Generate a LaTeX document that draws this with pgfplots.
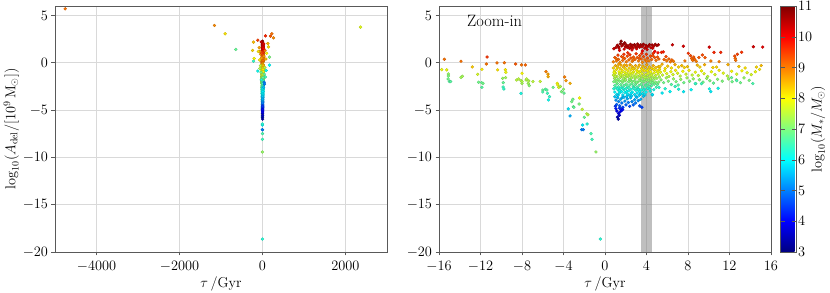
\documentclass[border=0pt]{standalone}
\usepackage{pgfplots}
\pgfplotsset{compat=1.18}
\usepackage{pgfplotstable}

\pgfplotstableread{
x y c
-15.74 -0.73 7.9
-15.49 0.37 9.1
-15.26 -0.75 7.9
-15.10 -1.18 7.2
-15.10 -1.40 7.0
-15.12 -1.71 6.9
-15.00 -1.99 6.7
-14.88 -1.99 6.7
-13.88 0.16 9.1
-13.88 -1.54 7.3
-13.75 -1.43 7.3
-12.79 -0.44 8.4
-12.27 -1.22 7.7
-12.18 -2.06 6.9
-11.89 -2.10 6.8
-11.86 -2.59 6.7
-11.76 -2.17 6.9
-11.86 -0.69 8.1
-11.37 0.61 9.6
-11.44 -0.13 9.1
-10.41 -0.02 9.1
-10.35 -0.75 8.2
-9.86 -1.64 7.2
-9.80 -2.10 6.8
-9.82 -2.56 6.5
-9.75 -2.77 6.4
-9.70 0.01 9.1
-9.60 -0.74 8.1
-9.55 -1.00 7.9
-9.58 -1.57 7.3
-8.61 -0.13 9.3
-8.05 -0.23 9.1
-7.68 -0.23 9.2
-8.00 -1.11 8.0
-8.51 -1.82 7.5
-8.32 -1.71 7.5
-8.10 -1.89 7.4
-8.00 -2.17 7.3
-8.00 -1.99 7.4
-8.10 -3.23 6.2
-7.61 -1.82 7.4
-7.55 -1.71 7.5
-7.40 -2.17 7.3
-7.30 -2.42 7.1
-7.35 -1.92 7.4
-6.95 -1.99 7.5
-6.25 -1.97 7.6
-6.00 -2.88 6.8
-6.00 -3.09 6.6
-5.75 -2.80 6.7
-5.60 -2.88 6.7
-5.55 -3.23 6.5
-5.45 -3.93 6.1
-5.35 -3.58 6.4
-5.69 -0.94 9.0
-5.50 -1.20 8.7
-5.48 -1.47 8.6
-5.00 -2.60 6.9
-4.60 -2.17 8.0
-4.55 -2.35 7.9
-4.45 -2.60 7.8
-4.30 -2.50 7.4
-4.20 -3.05 7.0
-4.00 -2.80 7.1
-3.95 -3.20 6.8
-3.89 -1.50 9.0
-3.76 -1.89 8.8
-3.37 -2.17 8.6
-3.54 -4.88 5.8
-3.37 -5.62 5.4
-3.21 -4.11 6.9
-3.10 -3.86 6.9
-3.05 -4.64 6.8
-3.00 -4.71 6.8
-2.45 -3.72 8.0
-2.50 -4.36 7.0
-2.20 -4.92 7.6
-2.25 -7.07 5.0
-2.10 -7.07 5.0
-2.00 -5.76 6.8
-1.75 -5.40 7.5
-1.65 -5.50 7.5
-2.15 -6.58 5.9
-1.73 -6.47 6.3
-1.35 -7.49 6.6
-1.25 -8.09 6.5
-0.87 -9.43 7.2
-0.45 -18.63 6.3
0.85 1.48 10.4
1.05 1.62 10.5
1.20 1.85 10.6
1.35 1.55 10.4
1.48 2.02 10.8
1.55 2.28 10.9
1.62 1.78 10.6
1.75 1.95 10.7
1.85 1.45 10.3
1.95 1.70 10.5
2.05 1.88 10.6
2.15 1.62 10.5
2.25 1.78 10.6
2.35 1.52 10.4
2.45 1.95 10.7
2.55 1.70 10.5
2.65 1.85 10.6
2.72 1.58 10.4
2.85 1.92 10.7
2.95 1.75 10.6
3.05 1.48 10.3
3.15 1.98 10.7
3.25 1.80 10.6
3.35 1.65 10.5
3.45 1.90 10.7
3.58 1.72 10.5
3.70 1.95 10.7
3.82 1.55 10.4
3.95 1.85 10.6
4.05 1.40 10.3
4.18 1.78 10.6
4.30 1.92 10.7
4.42 1.60 10.4
4.55 1.88 10.6
4.70 1.75 10.5
4.85 1.95 10.7
5.00 1.82 10.6
5.15 1.90 10.6
1.40 1.30 10.2
2.60 1.35 10.2
3.60 1.25 10.1
4.80 1.20 10.0
5.10 1.05 9.9
1.30 1.70 10.6
1.90 2.10 10.8
2.50 1.62 10.5
3.10 1.68 10.5
4.00 1.65 10.5
4.60 1.55 10.4
0.95 0.55 9.3
1.10 0.20 9.0
1.25 0.80 9.5
1.30 0.35 9.2
1.45 0.05 8.9
1.60 0.65 9.4
1.70 0.25 9.1
1.82 0.90 9.6
1.90 0.45 9.3
2.05 0.10 9.0
2.15 0.70 9.4
2.30 0.30 9.1
2.40 0.85 9.6
2.50 0.50 9.3
2.62 0.15 9.0
2.75 0.60 9.3
2.88 0.35 9.2
3.00 0.95 9.6
3.10 0.55 9.3
3.22 0.20 9.0
3.35 0.75 9.4
3.48 0.40 9.2
3.60 0.05 8.9
3.72 0.65 9.4
3.85 0.30 9.1
3.98 0.90 9.6
4.10 0.50 9.3
4.25 0.20 9.0
4.38 0.70 9.4
4.50 0.35 9.2
4.65 1.00 9.6
4.78 0.55 9.3
4.92 0.25 9.1
5.05 0.60 9.3
5.20 0.40 9.2
0.80 0.10 9.0
2.20 1.05 9.7
3.55 1.00 9.7
1.08 0.45 9.2
1.75 0.55 9.3
2.70 0.30 9.1
3.30 0.50 9.3
4.00 0.15 9.0
4.60 0.75 9.4
0.80 -0.55 8.3
0.90 -0.90 8.0
1.00 -0.30 8.6
1.12 -0.70 8.2
1.22 -0.45 8.4
1.35 -0.95 8.0
1.45 -0.60 8.3
1.55 -0.25 8.6
1.65 -0.80 8.1
1.78 -0.45 8.4
1.88 -1.00 7.9
1.98 -0.65 8.2
2.10 -0.30 8.6
2.20 -0.85 8.1
2.32 -0.55 8.3
2.42 -0.20 8.7
2.52 -0.75 8.2
2.62 -0.40 8.5
2.75 -0.95 8.0
2.85 -0.60 8.3
2.95 -0.30 8.6
3.08 -0.80 8.1
3.18 -0.50 8.4
3.30 -0.25 8.6
3.40 -0.90 8.0
3.52 -0.60 8.3
3.65 -0.35 8.5
3.78 -0.85 8.1
3.90 -0.50 8.4
4.02 -0.20 8.7
4.15 -0.70 8.2
4.28 -0.45 8.4
4.40 -0.95 8.0
4.52 -0.60 8.3
4.65 -0.30 8.6
4.78 -0.80 8.1
4.90 -0.50 8.4
5.02 -0.85 8.1
5.15 -0.40 8.5
5.25 -0.70 8.2
1.32 -0.15 8.7
1.88 -0.25 8.6
2.70 -0.60 8.3
3.12 -0.95 8.0
3.65 -0.75 8.2
4.08 -0.85 8.1
4.68 -0.70 8.2
0.82 -1.30 7.6
0.92 -1.65 7.3
1.02 -1.10 7.8
1.15 -1.45 7.5
1.25 -1.75 7.2
1.38 -1.20 7.7
1.48 -1.55 7.4
1.58 -1.05 7.9
1.68 -1.40 7.5
1.80 -1.70 7.3
1.90 -1.25 7.7
2.00 -1.55 7.4
2.12 -1.15 7.8
2.22 -1.45 7.5
2.35 -1.75 7.2
2.45 -1.30 7.6
2.55 -1.60 7.4
2.68 -1.10 7.8
2.78 -1.40 7.5
2.90 -1.70 7.3
3.00 -1.20 7.7
3.12 -1.50 7.4
3.25 -1.05 7.9
3.35 -1.35 7.6
3.45 -1.65 7.3
3.58 -1.15 7.8
3.68 -1.45 7.5
3.80 -1.75 7.2
3.92 -1.25 7.7
4.05 -1.55 7.4
4.15 -1.10 7.8
4.28 -1.40 7.5
4.40 -1.70 7.3
4.52 -1.20 7.7
4.62 -1.50 7.4
4.75 -1.05 7.9
4.88 -1.35 7.6
5.00 -1.65 7.3
5.12 -1.20 7.7
5.25 -1.50 7.4
0.88 -1.05 7.9
0.98 -1.45 7.5
1.50 -1.30 7.6
2.18 -1.30 7.6
2.42 -1.05 7.9
2.90 -1.50 7.4
3.32 -1.75 7.2
3.85 -1.55 7.4
4.45 -1.30 7.6
4.80 -1.65 7.3
5.10 -1.00 7.9
0.85 -2.00 7.0
0.95 -2.40 6.7
1.08 -1.85 7.1
1.18 -2.20 6.8
1.30 -2.55 6.5
1.40 -1.95 7.0
1.52 -2.30 6.8
1.62 -2.60 6.5
1.72 -2.05 7.0
1.85 -2.40 6.7
1.95 -1.90 7.1
2.05 -2.25 6.8
2.18 -2.55 6.6
2.28 -2.00 7.0
2.40 -2.35 6.7
2.50 -1.85 7.1
2.60 -2.20 6.8
2.72 -2.50 6.6
2.82 -1.95 7.0
2.92 -2.30 6.8
3.05 -2.60 6.5
3.15 -2.05 7.0
3.28 -2.40 6.7
3.38 -1.90 7.1
3.50 -2.25 6.8
3.62 -2.55 6.6
3.75 -2.00 7.0
3.88 -2.35 6.7
4.00 -1.85 7.1
4.12 -2.20 6.8
4.25 -2.50 6.6
4.38 -2.05 7.0
4.50 -2.40 6.7
4.62 -1.90 7.1
4.75 -2.25 6.8
4.88 -2.05 7.0
5.05 -2.30 6.8
1.10 -2.05 7.0
1.65 -1.90 7.1
1.98 -1.80 7.2
2.30 -2.60 6.5
2.58 -2.00 7.0
3.02 -2.05 7.0
3.55 -1.95 7.0
3.95 -2.45 6.7
4.20 -1.85 7.1
4.58 -2.10 6.9
4.95 -2.60 6.5
5.18 -2.05 7.0
0.85 -2.75 6.3
0.95 -3.10 6.0
1.05 -2.65 6.4
1.15 -3.35 5.8
1.28 -2.90 6.2
1.38 -3.20 5.9
1.50 -2.70 6.3
1.60 -3.05 6.0
1.72 -3.40 5.8
1.82 -2.85 6.2
1.92 -3.15 6.0
2.05 -2.70 6.3
2.15 -3.30 5.9
2.28 -2.95 6.1
2.38 -3.45 5.7
2.50 -2.80 6.2
2.62 -3.10 6.0
2.75 -2.65 6.4
2.85 -3.35 5.8
2.98 -2.90 6.2
3.10 -3.20 5.9
3.22 -2.75 6.3
3.35 -3.05 6.0
3.48 -2.85 6.2
3.62 -3.25 5.9
3.80 -2.80 6.2
3.95 -3.10 6.0
4.10 -2.70 6.3
4.35 -3.00 6.1
4.55 -3.40 5.8
4.70 -2.85 6.2
3.85 -3.40 5.8
1.20 -2.75 6.3
1.42 -2.95 6.1
1.76 -2.70 6.3
2.08 -3.05 6.0
2.52 -3.20 5.9
2.80 -2.75 6.3
3.20 -2.85 6.2
3.42 -3.30 5.8
3.72 -2.90 6.2
4.32 -2.80 6.2
1.25 -3.45 5.7
1.68 -3.65 5.5
2.10 -3.55 5.6
2.55 -3.50 5.7
3.00 -3.60 5.6
3.30 -3.45 5.7
0.95 -3.60 5.6
1.05 -3.95 5.2
1.12 -4.40 4.8
1.22 -3.70 5.5
1.32 -4.10 5.1
1.42 -4.55 4.7
1.52 -3.85 5.4
1.62 -4.25 5.0
1.72 -4.70 4.5
1.82 -3.65 5.5
1.92 -4.05 5.2
2.02 -4.45 4.8
2.15 -3.80 5.4
2.25 -4.20 5.0
2.38 -4.60 4.6
2.48 -3.70 5.5
2.60 -4.10 5.1
2.72 -4.45 4.8
2.85 -3.90 5.3
2.95 -4.25 5.0
3.08 -3.65 5.5
3.20 -4.00 5.2
3.35 -4.55 4.7
3.55 -4.70 4.5
3.45 -3.85 5.4
3.70 -3.55 5.6
1.40 -4.80 4.4
1.55 -4.90 4.3
1.05 -4.85 4.2
1.15 -5.10 3.9
1.30 -5.35 3.7
1.20 -5.75 3.4
1.28 -5.95 3.3
1.38 -5.55 3.6
1.45 -5.20 3.9
1.60 -5.05 4.0
1.70 -4.95 4.1
1.00 -4.60 4.4
5.45 1.10 9.7
5.62 1.15 9.8
5.88 0.65 9.4
5.70 0.35 9.2
5.95 0.20 9.0
6.15 0.40 9.2
6.30 0.10 9.0
6.45 0.30 9.2
6.60 0.15 9.0
6.50 1.90 10.4
7.55 1.75 10.3
7.70 0.20 9.0
8.03 1.00 9.6
8.25 0.75 9.4
8.35 0.45 9.2
8.45 0.25 9.1
8.55 0.60 9.3
8.65 0.35 9.2
8.80 0.15 9.0
9.05 0.55 9.3
9.38 0.82 9.4
9.64 0.54 9.3
10.05 1.65 10.3
10.20 0.19 9.0
10.50 1.10 9.7
11.00 0.12 9.0
11.15 1.10 9.7
12.50 0.70 9.4
12.55 0.47 9.2
12.60 0.26 9.1
12.75 0.90 9.5
13.17 1.11 9.6
14.30 1.70 10.3
15.20 1.66 10.2
5.30 -0.40 8.4
5.50 -0.15 8.6
5.80 -0.60 8.2
6.05 -0.35 8.4
6.40 -0.55 8.2
6.75 -0.20 8.6
7.10 -0.45 8.3
7.40 -0.30 8.5
7.65 -0.50 8.3
7.95 -0.40 8.4
8.90 -0.25 8.5
9.15 -0.45 8.3
9.60 -0.20 8.6
10.40 -0.50 8.3
10.75 -0.45 8.3
11.85 -0.20 8.6
12.90 -0.40 8.4
13.50 -0.55 8.2
14.60 -0.45 8.3
15.05 -0.30 8.5
5.35 -1.00 7.9
5.55 -1.30 7.6
5.75 -0.85 8.0
5.95 -1.15 7.8
6.15 -1.45 7.5
6.35 -0.95 7.9
6.55 -1.25 7.7
6.80 -0.80 8.1
7.00 -1.10 7.8
7.25 -1.40 7.5
7.50 -0.90 8.0
7.80 -1.20 7.7
8.10 -0.80 8.1
8.40 -1.30 7.6
8.70 -1.00 7.9
9.00 -1.35 7.6
9.30 -0.85 8.0
9.55 -1.15 7.8
9.90 -1.45 7.5
10.25 -0.95 7.9
10.60 -1.25 7.7
11.00 -0.80 8.1
11.40 -1.10 7.8
11.80 -1.40 7.5
12.20 -0.90 8.0
12.70 -1.20 7.7
13.20 -0.85 8.0
13.70 -1.05 7.8
14.10 -1.25 7.7
14.50 -0.95 7.9
14.90 -0.70 8.1
5.40 -1.80 7.1
5.65 -2.10 6.9
5.90 -1.60 7.3
6.10 -1.95 7.0
6.40 -2.30 6.7
6.60 -1.70 7.2
6.85 -2.00 7.0
7.05 -2.35 6.7
7.30 -1.75 7.2
7.60 -2.10 6.9
7.90 -1.60 7.3
8.15 -1.95 7.0
8.50 -1.70 7.2
8.75 -2.20 6.8
9.10 -1.80 7.1
9.45 -2.05 6.9
9.80 -1.65 7.2
10.10 -1.90 7.0
10.45 -2.15 6.8
10.85 -1.75 7.1
11.30 -1.95 7.0
11.90 -1.70 7.2
12.25 -2.00 6.9
12.65 -1.80 7.1
13.05 -2.10 6.9
13.40 -1.60 7.2
13.90 -1.85 7.0
14.25 -2.20 6.6
4.57 -3.35 5.8
5.20 -2.60 6.4
5.50 -3.20 5.9
5.80 -2.75 6.3
6.27 -3.05 6.0
6.76 -2.50 6.4
7.10 -2.80 6.2
7.57 -3.06 5.9
8.30 -2.85 6.0
8.70 -2.20 6.4
9.30 -2.20 6.5
10.06 -2.76 6.1
10.20 -3.05 5.9
10.90 -2.70 6.1
12.20 -1.57 6.8
12.70 -1.90 6.6
}\tabnear

\pgfplotstableread{
x y c
-4755 5.70 9.1
-1157 3.94 8.9
-900 3.06 8.2
-643 1.41 6.8
2362 3.77 7.8
-217 2.18 8.5
-112 2.39 9.5
72 2.85 9.7
225 3.06 9.1
193 2.81 9.3
265 2.64 8.9
129 2.03 8.6
145 1.68 8.3
169 0.60 7.0
-217 0.17 6.4
169 -0.25 6.0
-112 -0.88 6.1
88 -0.81 6.0
40 -2.05 5.0
48 -2.25 5.0
-80 1.60 8.7
-60 1.20 8.9
-45 0.90 8.6
60 1.30 9.0
80 0.40 8.5
-70 0.30 8.2
-50 -0.30 7.6
55 -0.50 7.5
-35 -1.00 7.0
40 -1.20 6.8
30 2.00 10.2
-30 2.20 10.4
25 1.50 10.0
-25 1.00 9.4
-240 1.30 8.3
-200 0.45 8.0
-100 1.20 8.2
100 1.00 8.0
35 0.70 8.8
-20 0.50 8.7
-65 -0.60 7.4
70 -1.50 6.5
-30 -1.80 6.3
25 -2.60 5.5
}\tabfar

\definecolor{framecol}{gray}{0.35}
\definecolor{gridcol}{gray}{0.85}

\pgfplotsset{
  myax/.style={
    scale only axis, width=332bp, height=246bp,
    ymin=-20, ymax=6, ytick={-20,-15,-10,-5,0,5},
    grid=major, grid style={gridcol, line width=0.6bp},
    axis line style={framecol, line width=0.7bp},
    tick style={framecol, line width=0.6bp},
    tick align=outside, tick pos=left, major tick length=3.5bp,
    font=\fontsize{14.2}{16}\selectfont,
    scaled x ticks=false,
    xticklabel style={/pgf/number format/1000 sep={}, yshift=-2.5bp},
    colormap/jet, point meta min=3, point meta max=11,
    xlabel={$\tau\,/\mathrm{Gyr}$},
    xlabel style={yshift=2bp},
  },
  myscat/.style={scatter, only marks, mark=*, mark size=1.45bp, scatter src=explicit},
}

\begin{document}
\begin{tikzpicture}
\path[use as bounding box] (-55bp,-41bp) rectangle (775bp,252bp);
\begin{axis}[myax, at={(0,0)}, anchor=south west,
  xmin=-5000, xmax=3000, xtick={-4000,-2000,0,2000},
  ylabel={$\log_{10}(A_{\rm del}/[10^9\,\mathrm{M}_\odot])$},
  ylabel style={yshift=-3bp},
]
\addplot[myscat] table[x=x, y=y, meta=c] {\tabnear};
\addplot[myscat] table[x=x, y=y, meta=c] {\tabfar};
\end{axis}
\begin{axis}[myax, at={(384bp,0)}, anchor=south west,
  xmin=-16, xmax=16, xtick={-16,-12,...,16},
  colorbar,
  colorbar style={at={(parent axis.north east)}, anchor=north west, xshift=1bp,
    width=16bp, ytick={3,4,...,11},
    axis line style={framecol}, tick style={framecol},
    yticklabel style={xshift=-2bp},
    ylabel={$\log_{10}(M_*/M_\odot)$},
    ylabel shift=-8bp,
    font=\fontsize{14.2}{16}\selectfont},
]
\addplot[myscat] table[x=x, y=y, meta=c] {\tabnear};
\fill[gray, opacity=0.5] (axis cs:3.5,-20) rectangle (axis cs:4.5,6);
\node[anchor=base west, inner sep=0, font=\fontsize{16.5}{18}\selectfont] at (rel axis cs:0.084,0.916) {Zoom-in};
\end{axis}
\end{tikzpicture}
\end{document}
